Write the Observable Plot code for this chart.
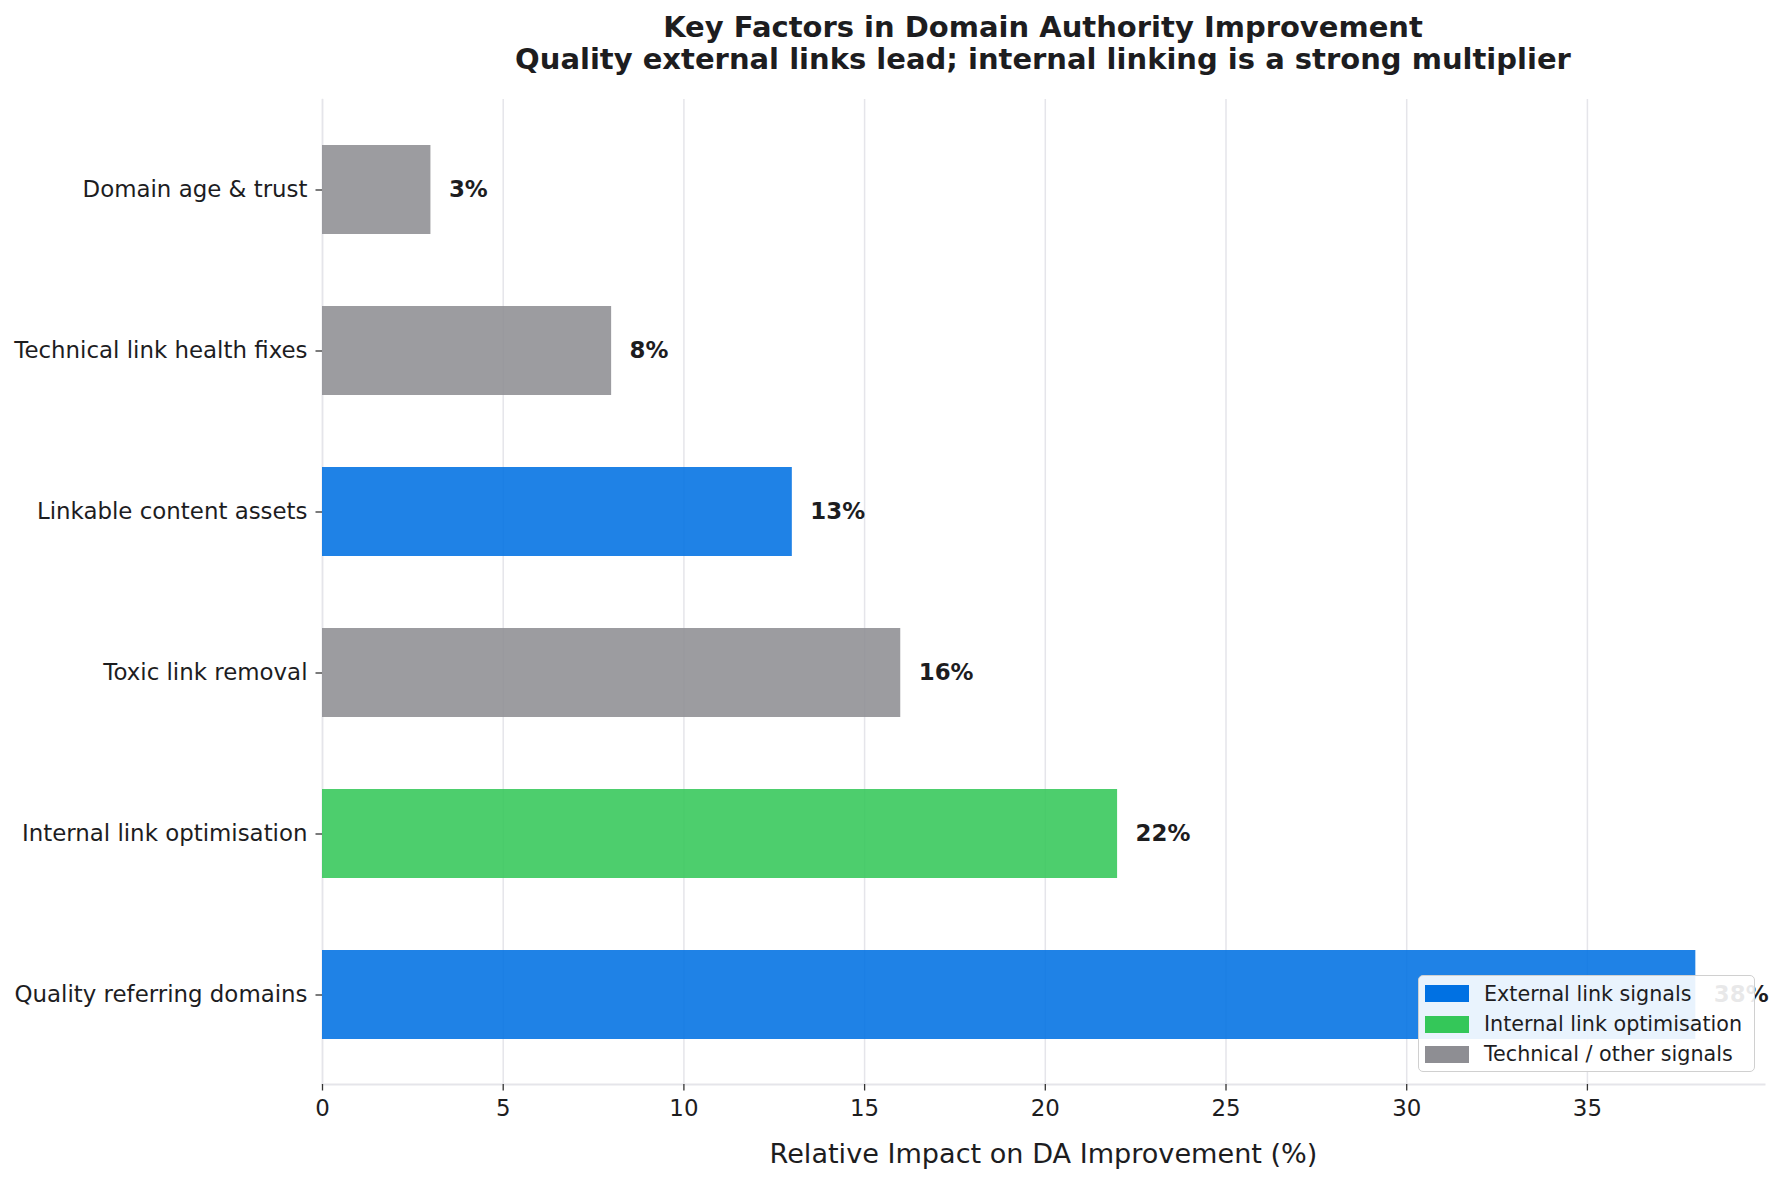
<!DOCTYPE html>
<html>
<head>
<meta charset="utf-8">
<script src="https://cdn.jsdelivr.net/npm/d3@7"></script>
<script src="https://cdn.jsdelivr.net/npm/@observablehq/plot@0.6"></script>
<style>
  html, body { margin: 0; padding: 0; background: #fff; overflow: hidden; }
  #wrap { position: relative; width: 1782px; height: 1183px; font-family: "DejaVu Sans", sans-serif; color: #1d1d1f; }
  #title { position: absolute; left: 322px; width: 1442px; top: 11px; text-align: center; font-weight: bold; font-size: 29px; line-height: 32px; }
  #chart { position: absolute; left: 0; top: 84px; }
  #legend { position: absolute; left: 1418px; top: 975px; width: 335px; height: 95px; background: rgba(255,255,255,0.9); border: 1.5px solid #d0d0d0; border-radius: 5px; }
  .row { position: absolute; left: 6px; height: 30px; display: flex; align-items: center; font-size: 20.7px; }
  .sw { width: 44px; height: 17px; margin-right: 15px; }
</style>
</head>
<body>
<div id="wrap">
  <div id="title"></div>
  <div id="chart"></div>
  <div id="legend"></div>
</div>
<script>
const titleLines = ["Key Factors in Domain Authority Improvement", "Quality external links lead; internal linking is a strong multiplier"];
const factors = ["Quality referring domains", "Internal link optimisation", "Toxic link removal", "Linkable content assets", "Technical link health fixes", "Domain age & trust"];
const impact = [38, 22, 16, 13, 8, 3];
const groups = ["External link signals", "Internal link optimisation", "Technical / other signals", "External link signals", "Technical / other signals", "Technical / other signals"];
const groupNames = ["External link signals", "Internal link optimisation", "Technical / other signals"];
const groupColors = ["#0071E3", "#34C759", "#8E8E93"];
const xTicks = [0, 5, 10, 15, 20, 25, 30, 35];
const xLabel = "Relative Impact on DA Improvement (%)";

const data = factors.map((f, i) => ({factor: f, value: impact[i], group: groups[i]}));

document.getElementById("title").innerHTML = titleLines.join("<br>");

const plot = Plot.plot({
  width: 1782,
  height: 1099,
  marginTop: 15,
  marginBottom: 99,
  marginLeft: 322,
  marginRight: 18,
  style: {fontFamily: "DejaVu Sans", fontSize: "22.9px", color: "#1d1d1f", background: "#fff"},
  x: {domain: [0, 39.9], label: null},
  y: {domain: factors.slice().reverse(), paddingInner: 0.45, paddingOuter: 0.268, label: null},
  color: {domain: groupNames, range: groupColors},
  marks: [
    Plot.gridX(xTicks, {stroke: "#E5E5EA", strokeOpacity: 1, strokeWidth: 1.5}),
    Plot.frame({anchor: "bottom", stroke: "#E5E5EA", strokeWidth: 2}),
    Plot.frame({anchor: "left", stroke: "#E5E5EA", strokeWidth: 1.5}),
    Plot.barX(data, {x: "value", y: "factor", fill: "group", fillOpacity: 0.88}),
    Plot.text(data, {x: "value", y: "factor", text: d => d.value + "%", dx: 18, textAnchor: "start", fontWeight: "bold", fill: "#1d1d1f", fontSize: 22.9}),
    Plot.axisX({ticks: xTicks, tickSize: 6.5, tickPadding: 9, stroke: "#333", strokeWidth: 1.3, fill: "#1d1d1f", fontSize: 22.9, label: null}),
    Plot.axisY({tickSize: 6.5, tickPadding: 8.5, stroke: "#333", strokeWidth: 1.3, fill: "#1d1d1f", fontSize: 22.9, label: null}),
    Plot.text([xLabel], {frameAnchor: "bottom", dy: 70, lineAnchor: "middle", fontSize: 27.1, fill: "#1d1d1f"})
  ]
});
document.getElementById("chart").appendChild(plot);

const legend = document.getElementById("legend");
groupNames.forEach((g, i) => {
  const row = document.createElement("div");
  row.className = "row";
  row.style.top = (2.7 + i * 30.3) + "px";
  const sw = document.createElement("div");
  sw.className = "sw";
  sw.style.background = groupColors[i];
  const lab = document.createElement("span");
  lab.textContent = g;
  row.appendChild(sw);
  row.appendChild(lab);
  legend.appendChild(row);
});
</script>
</body>
</html>
